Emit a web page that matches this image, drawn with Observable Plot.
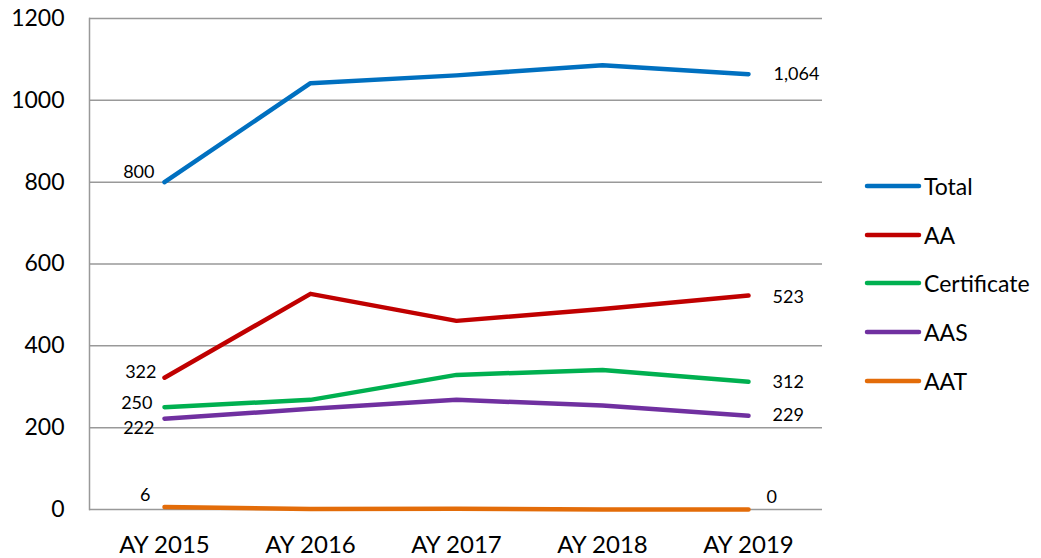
<!DOCTYPE html>
<html>
<head>
<meta charset="utf-8">
<script src="https://cdn.jsdelivr.net/npm/d3@7"></script>
<script src="https://cdn.jsdelivr.net/npm/@observablehq/plot@0.6"></script>
<style>
  html, body { margin: 0; padding: 0; background: #fff; }
  #wrap { position: relative; width: 1041px; height: 558px; font-family: Lato, "Open Sans", sans-serif; }
  #legend { position: absolute; left: 864px; top: 162px; }
  .item { display: flex; align-items: center; height: 48.6px; font-size: 23px; color: #000; }
  .item svg { margin-right: 2px; }
</style>
</head>
<body>
<div id="wrap"><div id="legend"></div></div>
<script>
const years = ["AY 2015", "AY 2016", "AY 2017", "AY 2018", "AY 2019"];
const seriesNames = ["Total", "AA", "Certificate", "AAS", "AAT"];
const colors = ["#0070C0", "#C00000", "#00B050", "#7030A0", "#E36C09"];
const total = [800, 1042, 1061, 1086, 1064];
const aa = [322, 527, 461, 490, 523];
const certificate = [250, 268, 329, 341, 312];
const aas = [222, 246, 268, 254, 229];
const aat = [6, 1, 2, 0, 0];
const yTicks = [0, 200, 400, 600, 800, 1000, 1200];

const seriesValues = [total, aa, certificate, aas, aat];
const data = [];
seriesNames.forEach((s, i) => years.forEach((y, j) => data.push({series: s, year: y, value: seriesValues[i][j]})));

const pt = (s, y) => data.filter(d => d.series === s && d.year === y);
const fmt = d3.format(",");
const lbl = (s, y, opts) => Plot.text(pt(s, y), {x: "year", y: "value", text: d => fmt(d.value), fontSize: 18, fill: "#000", ...opts});

const chart = Plot.plot({
  width: 1041,
  height: 558,
  marginLeft: 89,
  marginRight: 219,
  marginTop: 18,
  marginBottom: 49,
  style: {fontFamily: "Lato, 'Open Sans', sans-serif", background: "#fff"},
  x: {type: "point", domain: years, padding: 0.5, label: null},
  y: {domain: [0, 1200], label: null},
  color: {domain: seriesNames, range: colors},
  marks: [
    Plot.gridY(yTicks, {stroke: "#999", strokeOpacity: 1, strokeWidth: 1.5}),
    Plot.frame({anchor: "left", stroke: "#999", strokeWidth: 1.5}),
    Plot.axisY(yTicks, {tickSize: 0, tickPadding: 25, fontSize: 23, fill: "#000", tickFormat: d => String(d)}),
    Plot.axisX({tickSize: 0, tickPadding: 26, fontSize: 24, fill: "#000"}),
    Plot.line(data, {x: "year", y: "value", z: "series", stroke: "series", strokeWidth: 4.5, strokeLinecap: "round", strokeLinejoin: "round"}),
    lbl("Total", "AY 2015", {textAnchor: "end", dx: -10, dy: -10}),
    lbl("AA", "AY 2015", {textAnchor: "end", dx: -8, dy: -6}),
    lbl("Certificate", "AY 2015", {textAnchor: "end", dx: -12, dy: -4}),
    lbl("AAS", "AY 2015", {textAnchor: "end", dx: -10, dy: 10}),
    lbl("AAT", "AY 2015", {textAnchor: "end", dx: -14, dy: -12}),
    lbl("Total", "AY 2019", {textAnchor: "start", dx: 25, dy: 0}),
    lbl("AA", "AY 2019", {textAnchor: "start", dx: 24, dy: 2}),
    lbl("Certificate", "AY 2019", {textAnchor: "start", dx: 24, dy: 0}),
    lbl("AAS", "AY 2019", {textAnchor: "start", dx: 24, dy: -1}),
    lbl("AAT", "AY 2019", {textAnchor: "start", dx: 18, dy: -12})
  ]
});
const wrap = document.getElementById("wrap");
wrap.insertBefore(chart, wrap.firstChild);

const legend = document.getElementById("legend");
seriesNames.forEach((s, i) => {
  const item = document.createElement("div");
  item.className = "item";
  item.innerHTML = `<svg width="58" height="8"><line x1="3" y1="4" x2="55" y2="4" stroke="${colors[i]}" stroke-width="4.5" stroke-linecap="round"/></svg><span>${s}</span>`;
  legend.appendChild(item);
});
</script>
</body>
</html>
